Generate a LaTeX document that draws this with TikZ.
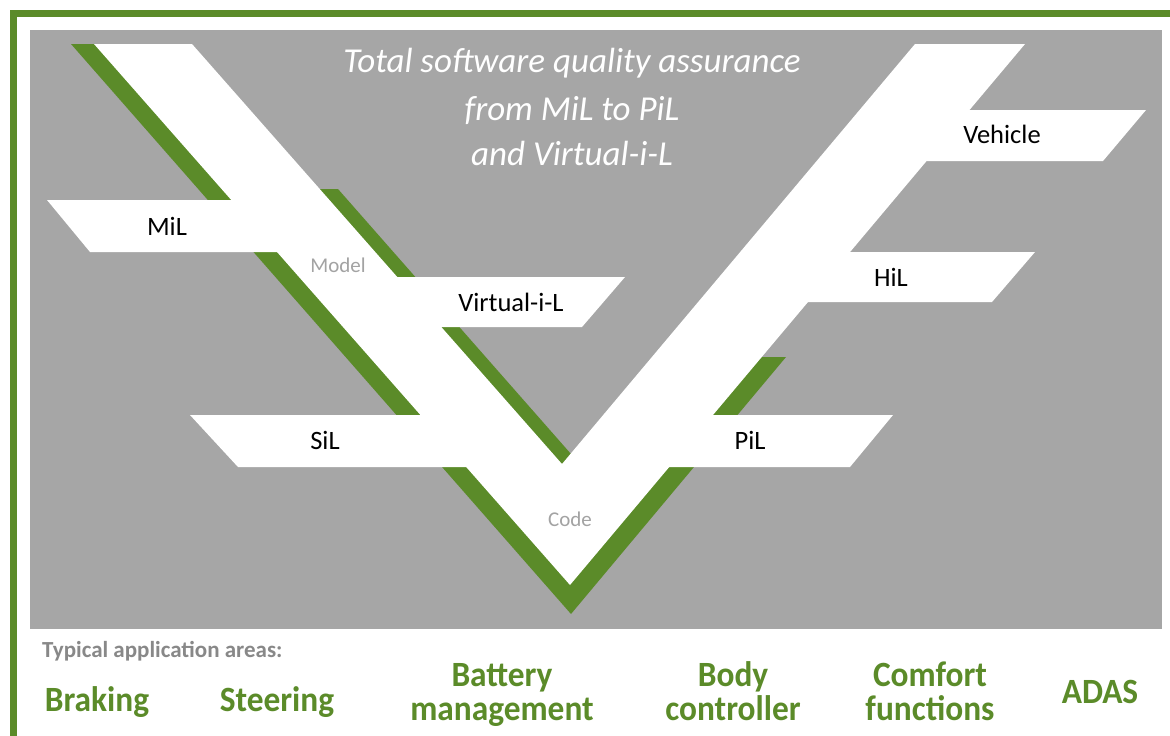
\documentclass[tikz,border=0pt]{standalone}
\usepackage{fontspec}
\setmainfont{Carlito}
\newfontfamily\areafont[FakeStretch=0.94,BoldFont={Carlito Bold}]{Carlito}
\definecolor{vgreen}{HTML}{5B8B29}
\definecolor{vgray}{HTML}{A6A6A6}
\definecolor{lgray}{HTML}{A3A3A3}
\definecolor{dgray}{HTML}{888888}
\begin{document}
\begin{tikzpicture}[x=1pt,y=-1pt,
  whiteshape/.style={fill=white,draw=none},
  greenshape/.style={fill=vgreen,draw=none},
  barlabel/.style={anchor=base,inner sep=0pt,text=black,font=\fontsize{26.5}{30}\selectfont},
  phaselabel/.style={anchor=base,inner sep=0pt,text=lgray,font=\fontsize{21}{25}\selectfont},
  titleline/.style={anchor=base,inner sep=0pt,text=white,font=\fontsize{35}{40}\selectfont\itshape},
  arealabel/.style={anchor=base,inner sep=0pt,align=center,text=vgreen,font=\areafont\fontsize{35.5}{33.5}\selectfont\bfseries},
  headlabel/.style={anchor=base west,inner sep=0pt,text=dgray,font=\fontsize{23}{26}\selectfont\bfseries}]
\useasboundingbox (0,0) rectangle (1170,736);
\fill[white] (0,0) rectangle (1170,736);
% green frame
\fill[vgreen] (10,10) rectangle (1170,17);
\fill[vgreen] (10,10) rectangle (17,736);
% gray panel
\fill[vgray] (30,30) rectangle (1162,629);
% green shadow of the V
\path[greenshape] (71,44) -- (150,44) -- (300,189) -- (338,189) -- (571,454)
  -- (740,357) -- (786,357) -- (571,614) -- cycle;
% white V
\path[whiteshape] (94,44) -- (192,44) -- (562,464) -- (915,44) -- (1025,44) -- (570,585) -- cycle;
% bars
\path[whiteshape] (47,200) -- (300,200) -- (320,252) -- (90,252) -- cycle;
\path[whiteshape] (190,415) -- (480,415) -- (510,467) -- (238,467) -- cycle;
\path[whiteshape] (360,277) -- (625,277) -- (582,327) -- (410,327) -- cycle;
\path[whiteshape] (660,415) -- (893,415) -- (850,467) -- (620,467) -- cycle;
\path[whiteshape] (800,252) -- (1035,252) -- (992,302) -- (760,302) -- cycle;
\path[whiteshape] (900,110) -- (1146,110) -- (1103,161) -- (870,161) -- cycle;
% labels
\node[titleline] (t1) at (572,72) {Total software quality assurance};
\node[titleline] (t2) at (572,120) {from MiL to PiL};
\node[titleline] (t3) at (572,165) {and Virtual-i-L};
\node[barlabel] (mil) at (167,235) {MiL};
\node[barlabel] (sil) at (325,449) {SiL};
\node[barlabel] (vil) at (511,311) {Virtual-i-L};
\node[barlabel] (pil) at (750,449) {PiL};
\node[barlabel] (hil) at (891,286) {HiL};
\node[barlabel] (veh) at (1002,143) {Vehicle};
\node[phaselabel] (model) at (338,272) {Model};
\node[phaselabel] (code) at (570,526) {Code};
\node[headlabel] (typ) at (42,657) {Typical application areas:};
\node[arealabel] (brk) at (97,711) {Braking};
\node[arealabel] (str) at (277,711) {Steering};
\node[arealabel] (bat) at (502,720) {Battery\\management};
\node[arealabel] (bod) at (733,720) {Body\\controller};
\node[arealabel] (com) at (930,720) {Comfort\\functions};
\node[arealabel] (adas) at (1100,703) {ADAS};
\end{tikzpicture}
\end{document}
